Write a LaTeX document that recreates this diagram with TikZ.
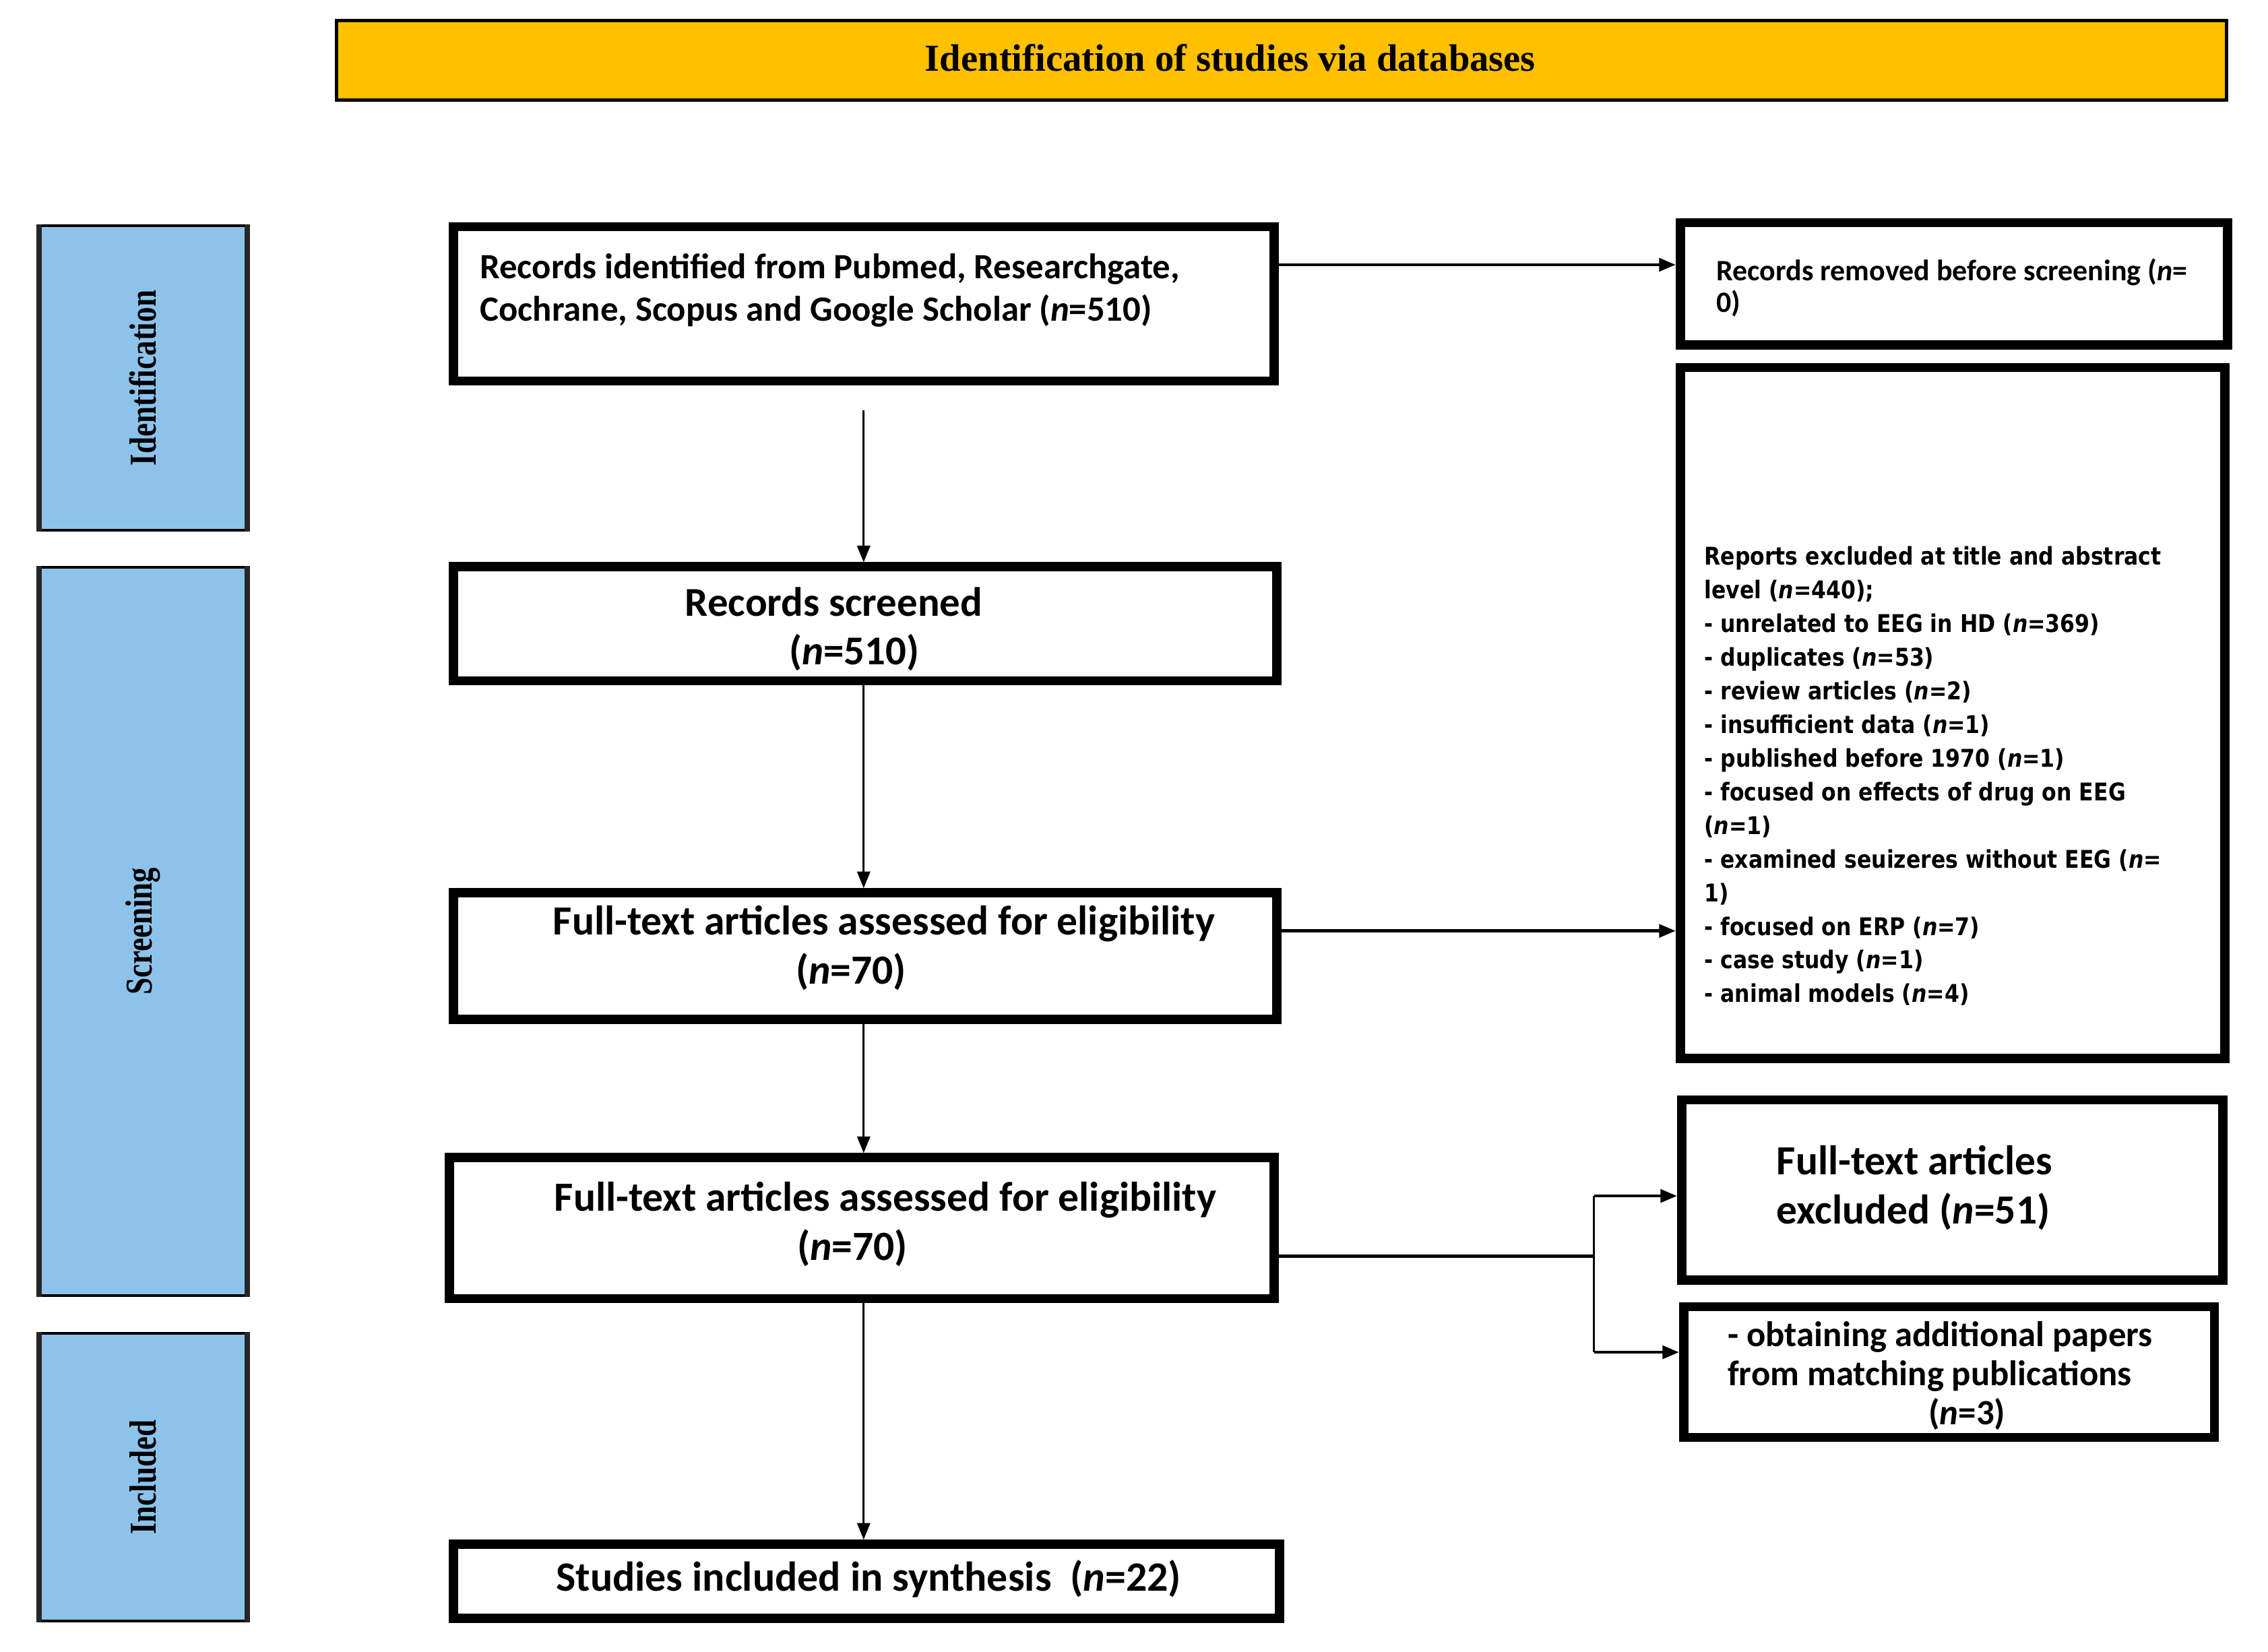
\documentclass[tikz,border=0pt]{standalone}
\usepackage{fontspec}
\setmainfont{Carlito}
\newfontfamily\boxfont{Carlito}
\newfontfamily\listfont[FakeStretch=0.87]{DejaVu Sans}
\newfontfamily\headfont{Liberation Serif}
\newfontfamily\sidefont[FakeStretch=0.8]{Liberation Serif}
\usetikzlibrary{arrows.meta}
\definecolor{gold}{RGB}{255,192,0}
\definecolor{sideblue}{RGB}{141,195,235}
\newcommand{\nn}{\textit{n}}
\begin{document}
\begin{tikzpicture}[x=0.00994cm,y=-0.00995cm,
  box/.style={draw, line width=3.9pt, fill=white, inner sep=0pt},
  side/.style={draw, line width=1.1pt, fill=sideblue, inner sep=0pt},
  sideedge/.style={line width=2.2pt, draw=black!85},
  sidetxt/.style={rotate=90, inner sep=0pt, font=\sidefont\bfseries\fontsize{16}{18}\selectfont},
  txt/.style={inner sep=0pt, font=\boxfont\bfseries},
  arr/.style={-{Triangle[length=7pt,width=5.5pt]}, line width=0.8pt},
  arrh/.style={arr, line width=1.3pt}]
\useasboundingbox (0,0) rectangle (3386.3,2462.3);
% banner
\node[draw, line width=1.4pt, fill=gold, minimum width=28.03cm, minimum height=1.18cm, inner sep=0pt] (banner) at (1913,89.5) {};
\node[inner sep=0pt, font=\headfont\bfseries\fontsize{16.1}{18}\selectfont] (bannertxt) at (1837,86) {Identification of studies via databases};
% side bars
\node[side, minimum width=3.09cm, minimum height=4.51cm] (sideid) at (213.5,563.5) {};
\node[side, minimum width=3.09cm, minimum height=10.80cm] (sidesc) at (213.5,1388.5) {};
\node[side, minimum width=3.09cm, minimum height=4.27cm] (sidein) at (213.5,2202.5) {};
\foreach \s in {sideid,sidesc,sidein}{
  \draw[sideedge] ([xshift=0.02cm]\s.north west) -- ([xshift=0.02cm]\s.south west);
  \draw[sideedge] ([xshift=-0.02cm]\s.north east) -- ([xshift=-0.02cm]\s.south east);
}
\node[sidetxt] (sideidtxt) at (213.5,563.5) {Identification};
\node[sidetxt] (sidesctxt) at (213.5,1388.5) {Screening};
\node[sidetxt] (sideintxt) at (213.5,2202.5) {Included};
% main boxes
\node[box, minimum width=12.17cm, minimum height=2.29cm] (records) at (1289.5,453) {};
\node[box, minimum width=8.12cm, minimum height=1.81cm] (removed) at (2917.5,423) {};
\node[box, minimum width=8.08cm, minimum height=10.25cm] (reports) at (2915.5,1063) {};
\node[box, minimum width=12.21cm, minimum height=1.69cm] (screened) at (1291.5,930) {};
\node[box, minimum width=12.21cm, minimum height=1.88cm] (ft1) at (1291.5,1425.5) {};
\node[box, minimum width=12.23cm, minimum height=2.09cm] (ft2) at (1286.5,1831) {};
\node[box, minimum width=8.03cm, minimum height=2.67cm] (excl) at (2915,1774) {};
\node[box, minimum width=7.87cm, minimum height=1.94cm] (obtain) at (2910,2045.5) {};
\node[box, minimum width=12.25cm, minimum height=1.10cm] (studies) at (1293.5,2357.5) {};
% texts
\node[txt, anchor=west, align=left, font=\boxfont\bfseries\fontsize{15}{18}\selectfont] (recordstxt) at (716,433)
  {Records identified from Pubmed, Researchgate,\\Cochrane, Scopus and Google Scholar (\nn=510)};
\node[txt, anchor=west, align=left, font=\boxfont\bfseries\fontsize{12.5}{13.4}\selectfont] (removedtxt) at (2562,429)
  {Records removed before screening (\nn=\\0)};
\node[txt, anchor=west, align=left, font=\listfont\bfseries\fontsize{10.3}{14.2}\selectfont] (reportstxt) at (2544,1157)
  {Reports excluded at title and abstract\\
   level (\nn=440);\\
   - unrelated to EEG in HD (\nn=369)\\
   - duplicates (\nn=53)\\
   - review articles (\nn=2)\\
   - insufficient data (\nn=1)\\
   - published before 1970 (\nn=1)\\
   - focused on effects of drug on EEG\\
   (\nn=1)\\
   - examined seuizeres without EEG (\nn=\\
   1)\\
   - focused on ERP (\nn=7)\\
   - case study (\nn=1)\\
   - animal models (\nn=4)};
\node[txt, align=center, font=\boxfont\bfseries\fontsize{17.3}{20.3}\selectfont] (screenedtxt) at (1245,938)
  {Records screened\\\hspace*{0.6cm}(\nn=510)};
\node[txt, align=center, font=\boxfont\bfseries\fontsize{17.5}{20.8}\selectfont] (ft1txt) at (1320,1413)
  {Full-text articles assessed for eligibility\\(\nn=70)\hspace*{0.98cm}};
\node[txt, align=center, font=\boxfont\bfseries\fontsize{17.5}{20.8}\selectfont] (ft2txt) at (1322,1825)
  {Full-text articles assessed for eligibility\\(\nn=70)\hspace*{0.98cm}};
\node[txt, anchor=west, align=left, font=\boxfont\bfseries\fontsize{17.5}{20.8}\selectfont] (excltxt) at (2652,1771)
  {Full-text articles\\excluded (\nn=51)};
\node[txt, anchor=west, align=left, font=\boxfont\bfseries\fontsize{15}{16.5}\selectfont] (obtaintxt) at (2579,2051)
  {- obtaining additional papers\\from matching publications\\\hspace*{2.98cm}(\nn=3)};
\node[txt, font=\boxfont\bfseries\fontsize{17.6}{20}\selectfont] (studiestxt) at (1297,2354)
  {Studies included in synthesis\ \ (\nn=22)};
% connectors
\draw[arrh] ([yshift=0.58cm]records.east) -- ([yshift=0.58cm]records.east -| removed.west);
\draw[arr, shorten <=0.37cm] (records.south) -- (records.south |- screened.north);
\draw[arr] (records.south |- screened.south) -- (records.south |- ft1.north);
\draw[arrh] ([yshift=0.375cm]ft1.east) -- ([yshift=0.375cm]ft1.east -| reports.west);
\draw[arr] (records.south |- ft1.south) -- (records.south |- ft2.north);
\draw[arr] (records.south |- ft2.south) -- (records.south |- studies.north);
\coordinate (split) at (2380,1873);
\coordinate (splittop) at (2380,1783);
\coordinate (splitbot) at (2380,2016);
\draw[line width=1.3pt] (ft2.east |- split) -- (split);
\draw[line width=0.8pt] (splittop) -- (splitbot);
\draw[arrh] (splittop) -- (splittop -| excl.west);
\draw[arrh] (splitbot) -- (splitbot -| obtain.west);
\end{tikzpicture}
\end{document}
